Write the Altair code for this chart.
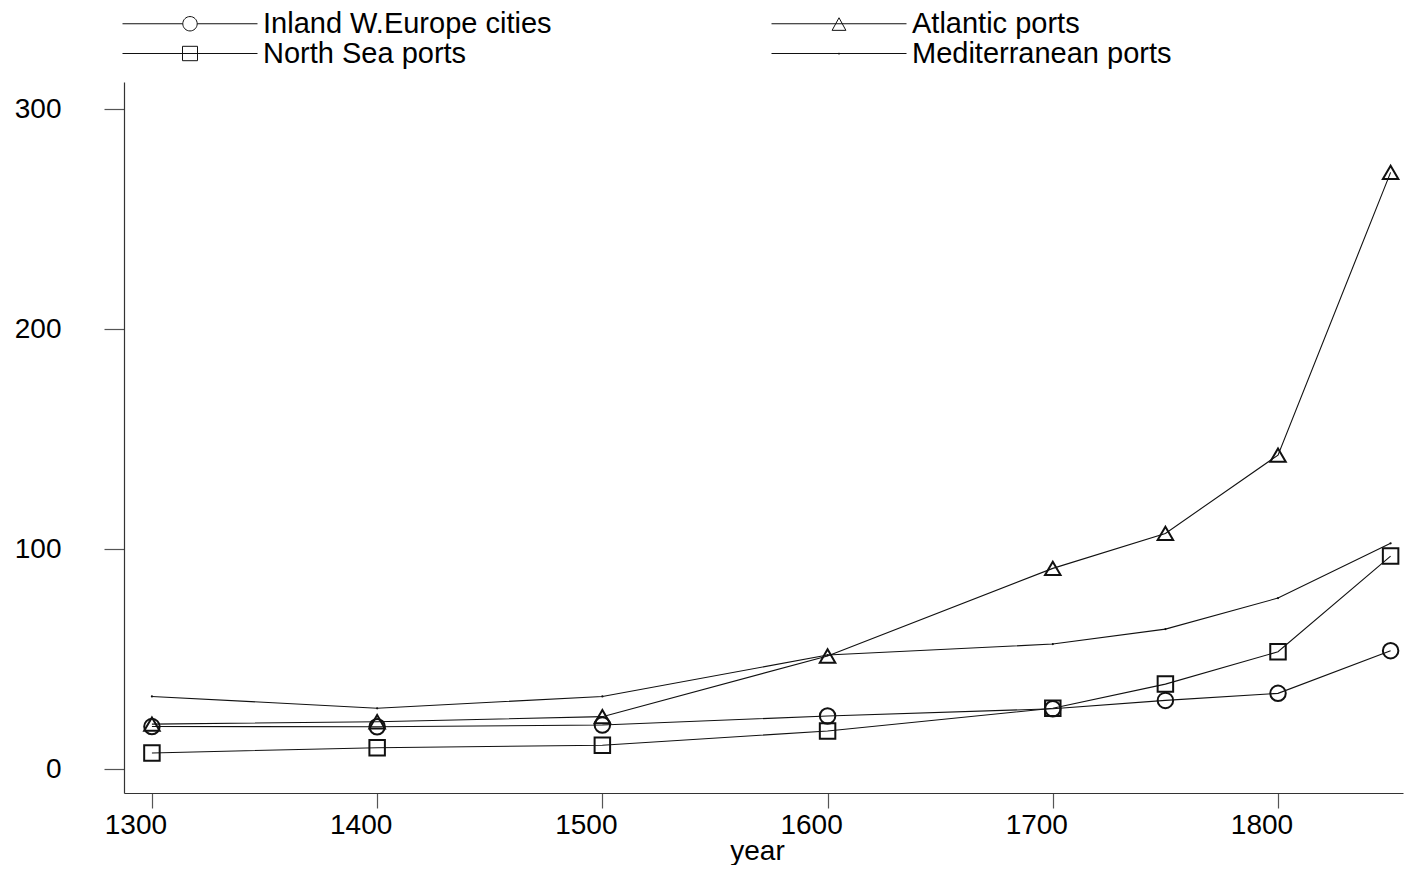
import altair as alt
import pandas as pd

years = [1300, 1400, 1500, 1600, 1700, 1750, 1800, 1850]
series_names = ["Inland W.Europe cities", "Atlantic ports", "North Sea ports", "Mediterranean ports"]
inland = [19.3, 19.2, 20.0, 24.1, 27.4, 31.2, 34.4, 53.8]
atlantic = [20.4, 21.5, 23.8, 51.4, 91.2, 107.1, 142.7, 271.2]
north_sea = [7.3, 9.7, 10.8, 17.3, 27.6, 38.6, 53.3, 96.8]
mediterranean = [33.0, 27.6, 33.0, 51.8, 56.8, 63.6, 77.7, 102.6]
x_ticks = [1300, 1400, 1500, 1600, 1700, 1800]
y_ticks = [0, 100, 200, 300]

rows = []
for name, vals in zip(series_names, [inland, atlantic, north_sea, mediterranean]):
    for yr, v in zip(years, vals):
        rows.append({"year": yr, "value": v, "series": name})
df = pd.DataFrame(rows)
tick_df = pd.DataFrame({"year": x_ticks, "label": [str(t) for t in x_ticks]})

FONT = "Liberation Sans"
INK = "#111111"
W, H = 1279, 711

x_scale = alt.Scale(domain=[1287.6, 1855.5], nice=False, zero=False)
x_enc = alt.X("year:Q", scale=x_scale,
              axis=alt.Axis(values=x_ticks, format="d", title="year", tickSize=15,
                            labels=False, grid=False,
                            titleX=633, titleY=66, titleAlign="center",
                            titleBaseline="alphabetic"))
y_enc = alt.Y("value:Q",
              scale=alt.Scale(domain=[-10.9, 312.3], nice=False, zero=False),
              axis=alt.Axis(values=y_ticks, title=None, tickSize=20, labelPadding=43,
                            grid=False))

lines = alt.Chart(df).mark_line(color=INK, strokeWidth=1.1).encode(
    x=x_enc, y=y_enc, detail="series:N")

marker_series = series_names[:3]
points = alt.Chart(df).transform_filter(
    alt.FieldOneOfPredicate(field="series", oneOf=marker_series)
).mark_point(filled=False, color=INK, strokeWidth=2, opacity=1, size=240).encode(
    x=x_enc, y=y_enc,
    shape=alt.Shape("series:N",
                    scale=alt.Scale(domain=marker_series,
                                    range=["circle", "triangle-up", "square"]),
                    legend=None),
)

dots = alt.Chart(df).transform_filter(
    alt.datum.series == series_names[3]
).mark_point(filled=True, color=INK, opacity=1, size=5, shape="circle").encode(
    x=x_enc, y=y_enc)

# x tick labels (sit slightly left of their ticks, as in the original)
xlabels = alt.Chart(tick_df).mark_text(
    baseline="top", align="center", dx=-16, font=FONT, fontSize=28, color="black"
).encode(x=x_enc, y=alt.value(H + 19), text="label:N")

# legend symbols: long line with the marker in the middle
legend_order = [series_names[0], series_names[2], series_names[1], series_names[3]]
path_for = {
    series_names[0]: "M-1,0H4.025M5.225,0H10.25M5.225,0A0.6,0.6,0,1,1,4.025,0A0.6,0.6,0,1,1,5.225,0Z",
    series_names[1]: "M-1,0H10.25M4.625,-0.5L5.2,0.55L4.05,0.55Z",
    series_names[2]: "M-1,0H10.25M4.0,-0.6H5.25V0.6H4.0Z",
    series_names[3]: "M-1,0H10.25M4.625,-0.06V0.1",
}
leg_paths = [path_for[s] for s in legend_order]

legend_layer = alt.Chart(df).mark_point(filled=False, color=INK, opacity=0).encode(
    x=x_enc, y=y_enc,
    shape=alt.Shape("series:N",
                    scale=alt.Scale(domain=legend_order, range=leg_paths),
                    legend=alt.Legend(title=None, orient="none", legendX=-4, legendY=-73,
                                      columns=2, columnPadding=217, rowPadding=0,
                                      symbolSize=576, symbolStrokeWidth=1,
                                      symbolStrokeColor=INK, symbolFillColor="transparent",
                                      symbolOpacity=1,
                                      labelOffset=114, labelFontSize=29, labelFont=FONT,
                                      labelColor="black", labelLimit=600)),
)

chart = alt.layer(lines, points, dots, xlabels, legend_layer).resolve_scale(
    shape="independent"
).properties(
    width=W, height=H,
    autosize=alt.AutoSizeParams(type="none"),
    padding={"left": 116, "top": 74, "right": 5, "bottom": 72},
).configure_view(stroke=None).configure_axis(
    labelFont=FONT, titleFont=FONT, labelFontSize=28, titleFontSize=28,
    titleFontWeight="normal", labelColor="black", titleColor="black",
    domainColor="#333333", tickColor="#555555", domainWidth=1.2, tickWidth=1.2,
)

chart.save("out.html", embed_options={"renderer": "svg", "actions": False})
